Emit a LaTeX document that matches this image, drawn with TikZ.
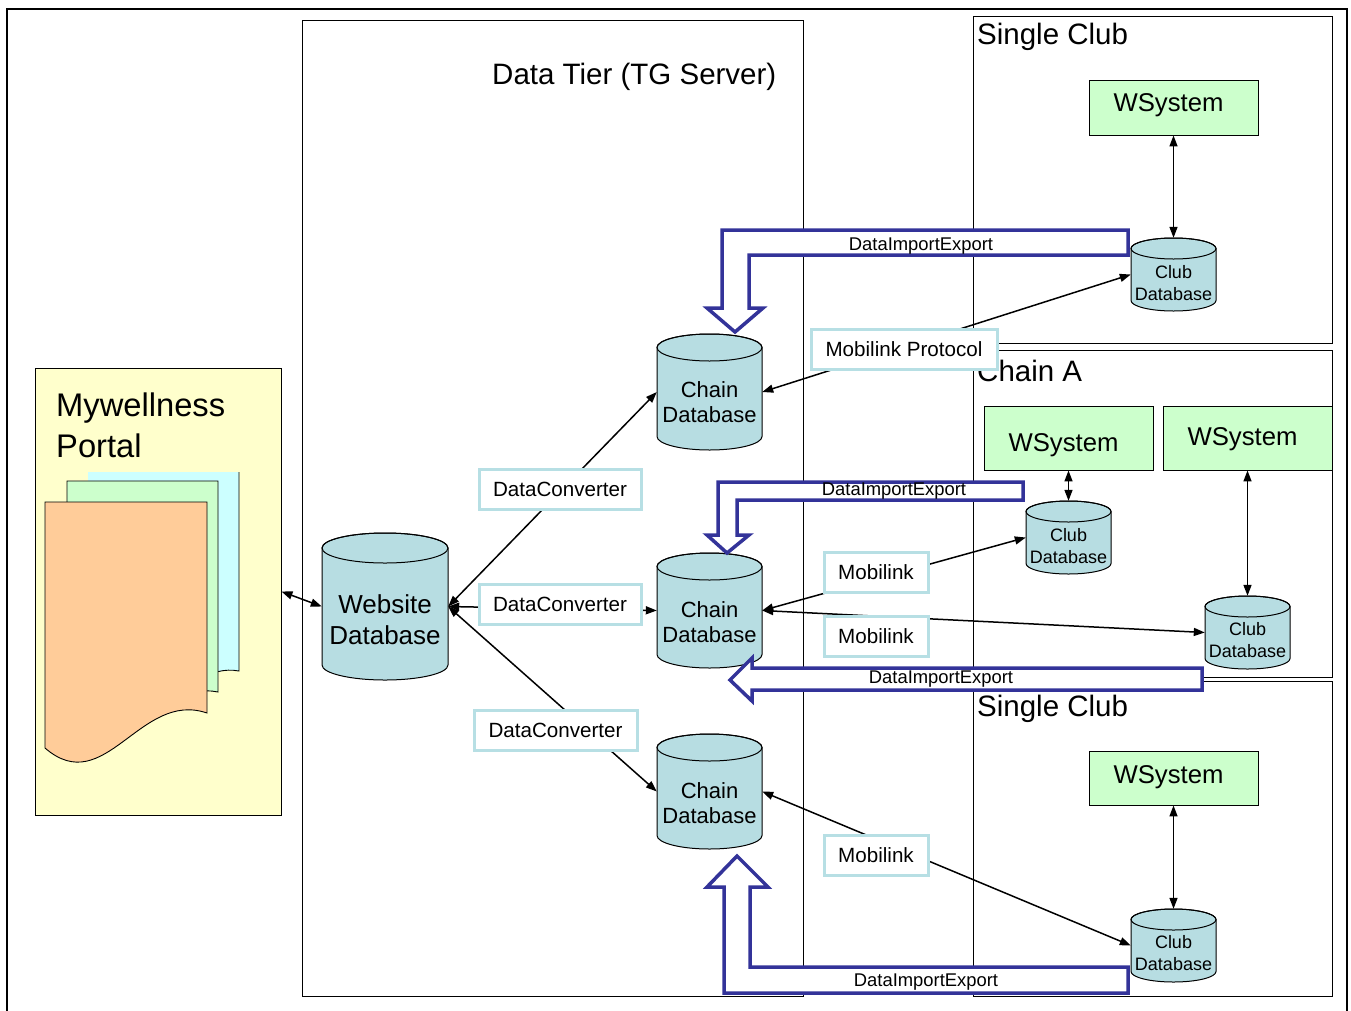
\documentclass[tikz,border=0pt]{standalone}
\usepackage{fontspec}
\setmainfont{Liberation Sans}
\usetikzlibrary{arrows.meta,fit}

\definecolor{portalbg}{HTML}{FFFFCC}
\definecolor{pagecyan}{HTML}{CCFFFF}
\definecolor{pagegreen}{HTML}{CCFFCC}
\definecolor{pageorange}{HTML}{FFCC99}
\definecolor{dbfill}{HTML}{B7DDE2}
\definecolor{tagline}{HTML}{B7DFE4}
\definecolor{flowblue}{HTML}{333399}

\tikzset{
  frame/.style={line width=2.5pt},
  zone/.style={draw=black, line width=0.9pt},
  conn/.style={line width=1.5pt, {Triangle[length=11pt,width=8pt]}-{Triangle[length=11pt,width=8pt]}},
  tag/.style={draw=tagline, line width=3pt, fill=white, inner sep=0pt,
    text height=27pt, text depth=13pt, font=\fontsize{20.6}{24}\selectfont},
  wsys/.style={draw=black, fill=pagegreen, line width=0.9pt, inner sep=0pt,
    font=\fontsize{25.7}{30}\selectfont, execute at begin node=\kern-10pt},
  dbbody/.style={draw=black, fill=dbfill, line width=1pt},
  bigarrow/.style={draw=flowblue, line width=3.5pt, fill=white, line join=miter},
  flowlabel/.style={font=\fontsize{18.4}{22}\selectfont, anchor=base, inner sep=0pt},
  title/.style={font=\fontsize{29.5}{34}\selectfont, anchor=base west, inner sep=0pt},
  chaintext/.style={font=\fontsize{22}{25}\selectfont, align=center, inner sep=0pt},
  clubtext/.style={font=\fontsize{18}{22}\selectfont, align=center, inner sep=0pt},
  page/.style={draw=black, line width=0.9pt},
}

% database cylinder: name, left x, right x, top y, bottom y, ellipse y radius
\newcommand{\dbcyl}[6]{%
  \pgfmathsetmacro{\cylcx}{(#2+#3)/2}%
  \pgfmathsetmacro{\cylrx}{(#3-#2)/2}%
  \pgfmathsetmacro{\cylty}{#4+#6}%
  \pgfmathsetmacro{\cylby}{#5-#6}%
  \filldraw[dbbody] (#2,\cylty) -- (#2,\cylby)
    arc[start angle=180, end angle=0, x radius=\cylrx, y radius=#6]
    -- (#3,\cylty)
    arc[start angle=0, end angle=-180, x radius=\cylrx, y radius=#6] -- cycle;
  \draw[dbbody, fill=none] (\cylcx,\cylty) ellipse [x radius=\cylrx, y radius=#6];
  \node[fit={(#2,#4) (#3,#5)}, inner sep=0pt] (#1) {};
}

\begin{document}
\begin{tikzpicture}[x=1pt, y=-1pt]
\useasboundingbox (0,0) rectangle (1351,1010);

% outer frame
\draw[frame] (7,1015) -- (7,9) -- (1347,9) -- (1347,1015);

% tiers
\node[zone, fit={(302,20) (803,996)}, inner sep=0pt] (tier) {};
\node[zone, fit={(973,16) (1332,343)}, inner sep=0pt] (club1box) {};
\node[zone, fit={(973,350) (1332,677)}, inner sep=0pt] (chainbox) {};
\node[zone, fit={(973,681) (1332,996)}, inner sep=0pt] (club3box) {};

\node[title] (tiertitle) at (492,84) {Data Tier (TG Server)};
\node[title] (club1title) at (977,44) {Single Club};
\node[title] (chaintitle) at (977,381) {Chain A};
\node[title] (club3title) at (977,716) {Single Club};

% portal with its stack of pages
\node[draw=black, line width=0.9pt, fill=portalbg, fit={(35,368) (281,815)}, inner sep=0pt] (portal) {};
\fill[pagecyan] (88,472) -- (239,472) -- (239,671)
  .. controls (180,660) and (150,760) .. (88,706) -- cycle;
\draw[page] (88,706) .. controls (150,760) and (180,660) .. (239,671) -- (239,472);
\filldraw[page, fill=pagegreen] (67,481) -- (218,481) -- (218,692)
  .. controls (157,679) and (118,779) .. (67,727) -- cycle;
\filldraw[page, fill=pageorange] (45,502) -- (207,502) -- (207,713)
  .. controls (140,690) and (105,800) .. (45,748) -- cycle;
\node[font=\fontsize{32.7}{38}\selectfont, anchor=base west, inner sep=0pt] (portal1) at (56,416) {Mywellness};
\node[font=\fontsize{32.7}{38}\selectfont, anchor=base west, inner sep=0pt] (portal2) at (56,457) {Portal};

% WSystem boxes
\node[wsys, minimum width=169pt, text height=31pt, text depth=24pt] (ws1) at (1173.5,107.5) {WSystem};
\node[wsys, minimum width=169pt, text height=45pt, text depth=19pt] (ws2) at (1068.5,438) {WSystem};
\node[wsys, minimum width=169pt, text height=39pt, text depth=25pt] (ws3) at (1247.5,438) {WSystem};
\node[wsys, minimum width=169pt, text height=32pt, text depth=22pt] (ws4) at (1173.5,778) {WSystem};

% databases
\dbcyl{web}{322}{448}{533}{680}{15}
\dbcyl{cdbA}{657}{762}{334}{450}{13.5}
\dbcyl{cdbB}{657}{762}{553}{668}{13.5}
\dbcyl{cdbC}{657}{762}{734}{849}{13.5}
\dbcyl{club1}{1131}{1216}{238}{311}{10.5}
\dbcyl{clubA1}{1026}{1111}{501}{574}{10.5}
\dbcyl{clubA2}{1205}{1290}{596}{669}{10.5}
\dbcyl{club3}{1131}{1216}{909}{982}{10.5}

\node[font=\fontsize{26}{31}\selectfont, align=center, inner sep=0pt] (webtext) at (385,620) {Website\\Database};
\node[chaintext] (cdbAtext) at (709.5,402.5) {Chain\\Database};
\node[chaintext] (cdbBtext) at (709.5,622) {Chain\\Database};
\node[chaintext] (cdbCtext) at (709.5,803) {Chain\\Database};
\node[clubtext] (club1text) at (1173.5,283.5) {Club\\Database};
\node[clubtext] (clubA1text) at (1068.5,546.5) {Club\\Database};
\node[clubtext] (clubA2text) at (1247.5,640.5) {Club\\Database};
\node[clubtext] (club3text) at (1173.5,953.5) {Club\\Database};

% connectors
\draw[conn] (portal.east) -- (web.west);
\draw[conn] (web.east) -- (cdbA.west);
\draw[conn] (web.east) -- (cdbB.west);
\draw[conn] (web.east) -- (cdbC.west);
\draw[conn] (cdbA.east) -- (club1.west);
\draw[conn] (cdbB.east) -- (clubA1.west);
\draw[conn] (cdbB.east) -- (clubA2.west);
\draw[conn] (cdbC.east) -- (club3.west);
\draw[conn] (ws1.south) -- (club1.north);
\draw[conn] (ws2.south) -- (clubA1.north);
\draw[conn] (ws3.south) -- (clubA2.north);
\draw[conn] (ws4.south) -- (club3.north);

% DataImportExport flows
\draw[bigarrow] (1128,230) -- (722,230) -- (722,308) -- (707,308) -- (735,332)
  -- (763,308) -- (749,308) -- (749,255) -- (1128,255) -- cycle;
\node[flowlabel] (flow1) at (921,250) {DataImportExport};
\draw[bigarrow] (1023,482) -- (718,482) -- (718,535) -- (707,535) -- (727,553)
  -- (749,535) -- (737,535) -- (737,500) -- (1023,500) -- cycle;
\node[flowlabel] (flow2) at (894,495) {DataImportExport};
\draw[bigarrow] (1202,668) -- (752,668) -- (752,658) -- (730,680) -- (752,701)
  -- (752,690) -- (1202,690) -- cycle;
\node[flowlabel] (flow3) at (941,683) {DataImportExport};
\draw[bigarrow] (737,856) -- (768,887) -- (750,887) -- (750,967) -- (1128,967)
  -- (1128,993) -- (724,993) -- (724,887) -- (707,887) -- cycle;
\node[flowlabel] (flow4) at (926,986) {DataImportExport};

% protocol tags
\node[tag, minimum width=162pt] (dc1) at (560,489) {DataConverter};
\node[tag, minimum width=162pt] (dc2) at (560,604.5) {DataConverter};
\node[tag, minimum width=163pt] (dc3) at (555.5,730) {DataConverter};
\node[tag, minimum width=186pt] (mp) at (904,349) {Mobilink Protocol};
\node[tag, minimum width=104pt] (ml1) at (876,572.5) {Mobilink};
\node[tag, minimum width=104pt] (ml2) at (876,636) {Mobilink};
\node[tag, minimum width=104pt] (ml3) at (876,855) {Mobilink};

\end{tikzpicture}
\end{document}
